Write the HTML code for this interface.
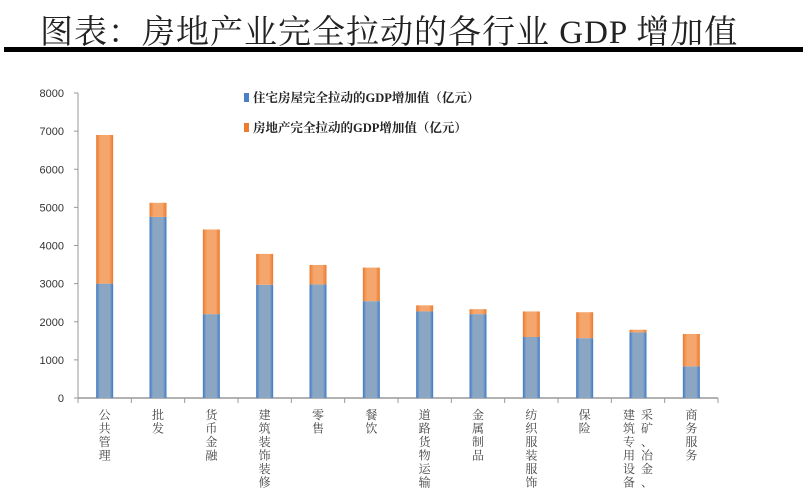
<!DOCTYPE html>
<html><head><meta charset="utf-8"><style>
body{margin:0;background:#fff;width:807px;height:488px;overflow:hidden;position:relative;font-family:"Liberation Serif","Noto Serif CJK SC",serif}
#title{position:absolute;left:40px;top:6px;font-size:33px;color:#222;letter-spacing:1px;white-space:nowrap}
#rule{position:absolute;left:4px;top:47px;width:799px;height:5px;background:#000}
svg{position:absolute;left:0;top:0}
</style></head><body>
<div id="title">图表：房地产业完全拉动的各行业 GDP 增加值</div>
<div id="rule"></div>
<svg id="chart" width="807" height="488">
<defs>
<linearGradient id="gb" x1="0" x2="1"><stop offset="0" stop-color="#3a78c8"/><stop offset="0.2" stop-color="#8aa6c2"/><stop offset="0.8" stop-color="#8aa6c2"/><stop offset="1" stop-color="#3a78c8"/></linearGradient>
<linearGradient id="go" x1="0" x2="1"><stop offset="0" stop-color="#ea7a2c"/><stop offset="0.25" stop-color="#f5a66c"/><stop offset="0.75" stop-color="#f5a66c"/><stop offset="1" stop-color="#ea7a2c"/></linearGradient>
</defs>
</svg>
<script>
const categories=["公共管理","批发","货币金融","建筑装饰装修","零售","餐饮","道路货物运输","金属制品","纺织服装服饰","保险","采矿、冶金、|建筑专用设备","商务服务"];
const residential=[3000,4750,2200,2970,2980,2540,2270,2200,1600,1570,1720,830];
const realEstate=[6900,5120,4420,3780,3490,3420,2430,2330,2270,2250,1790,1680];
const yTicks=[0,1000,2000,3000,4000,5000,6000,7000,8000];
const NS="http://www.w3.org/2000/svg",svg=document.getElementById('chart');
const x0=78,x1=718,y0=398,y1=93,yMax=8000;
const y=v=>y0-(y0-y1)*v/yMax;
const band=(x1-x0)/categories.length;
const cx=i=>x0+band*(i+0.5);
function mk(t,a){const e=document.createElementNS(NS,t);for(const k in a)e.setAttribute(k,a[k]);svg.appendChild(e);return e;}
let ax=mk('line',{x1:x0,x2:x0,y1:y1,y2:y0,stroke:'#999'});


let bx=mk('line',{x1:x0,x2:x1,y1:y0,y2:y0,stroke:'#999','stroke-width':1.5});


yTicks.forEach(v=>{
 mk('line',{x1:x0-4,x2:x0,y1:y(v),y2:y(v),stroke:'#999'});
 const t=mk('text',{x:x0-14,y:y(v)+4,'text-anchor':'end','font-size':11,'font-family':'Liberation Sans, sans-serif',fill:'#333'});
 t.textContent=v;
 
 
});
for(let i=0;i<=categories.length;i++)mk('line',{x1:x0+band*i,x2:x0+band*i,y1:y0,y2:y0+5,stroke:'#999'});
const bw=17;
categories.forEach((c,i)=>{
 const b=mk('rect',{x:cx(i)-bw/2,y:y(residential[i]),width:bw,height:y0-y(residential[i]),fill:'url(#gb)'});
 
 
 const o=mk('rect',{x:cx(i)-bw/2,y:y(realEstate[i]),width:bw,height:y(residential[i])-y(realEstate[i]),fill:'url(#go)'});
 
 
 const cols=c.split('|');
 cols.forEach((col,j)=>{
  const xx=cx(i)+(cols.length>1?(j===0?9:-9):0);
  [...col].forEach((ch,k)=>{
   const t=mk('text',{x:xx,y:419+k*13.5,'text-anchor':'middle','font-size':12,fill:'#444','font-family':'Noto Serif CJK SC, serif'});
   t.textContent=ch;
   
   
  });
 });
});
[['#4a80c8','住宅房屋完全拉动的GDP增加值（亿元）',98],['#ec7d30','房地产完全拉动的GDP增加值（亿元）',128]].forEach(([col,txt,yy])=>{
 const r=mk('rect',{x:244,y:yy-5,width:5,height:9,fill:col});
 
 
 const t=mk('text',{x:253,y:yy+4,'font-size':12.5,'font-weight':'bold',fill:'#222','font-family':'Liberation Serif, Noto Serif CJK SC, serif'});
 t.textContent=txt;
 
 
});
</script>
</body></html>
